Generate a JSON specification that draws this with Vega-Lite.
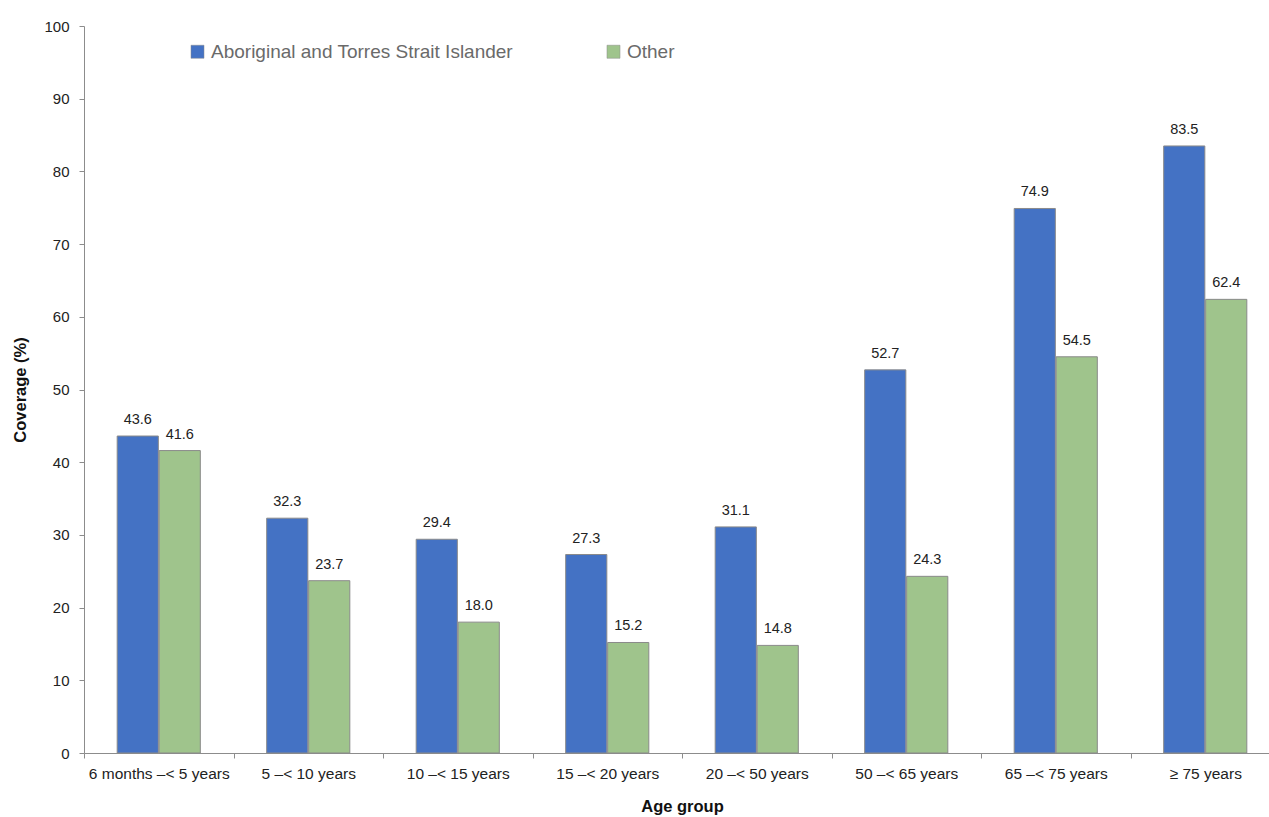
{
  "$schema": "https://vega.github.io/schema/vega-lite/v6.json",
  "width": 1196,
  "height": 727,
  "autosize": "none",
  "padding": {"left": 84, "top": 26, "right": 0, "bottom": 64},
  "background": "white",
  "config": {"view": {"stroke": null}, "font": "Liberation Sans"},
  "data": {"values": [
    {"age": "6 months –< 5 years", "series": "Aboriginal and Torres Strait Islander", "coverage": 43.6},
    {"age": "6 months –< 5 years", "series": "Other", "coverage": 41.6},
    {"age": "5 –< 10 years", "series": "Aboriginal and Torres Strait Islander", "coverage": 32.3},
    {"age": "5 –< 10 years", "series": "Other", "coverage": 23.7},
    {"age": "10 –< 15 years", "series": "Aboriginal and Torres Strait Islander", "coverage": 29.4},
    {"age": "10 –< 15 years", "series": "Other", "coverage": 18.0},
    {"age": "15 –< 20 years", "series": "Aboriginal and Torres Strait Islander", "coverage": 27.3},
    {"age": "15 –< 20 years", "series": "Other", "coverage": 15.2},
    {"age": "20 –< 50 years", "series": "Aboriginal and Torres Strait Islander", "coverage": 31.1},
    {"age": "20 –< 50 years", "series": "Other", "coverage": 14.8},
    {"age": "50 –< 65 years", "series": "Aboriginal and Torres Strait Islander", "coverage": 52.7},
    {"age": "50 –< 65 years", "series": "Other", "coverage": 24.3},
    {"age": "65 –< 75 years", "series": "Aboriginal and Torres Strait Islander", "coverage": 74.9},
    {"age": "65 –< 75 years", "series": "Other", "coverage": 54.5},
    {"age": "≥ 75 years", "series": "Aboriginal and Torres Strait Islander", "coverage": 83.5},
    {"age": "≥ 75 years", "series": "Other", "coverage": 62.4}
  ]},
  "encoding": {
    "x": {
      "field": "age", "type": "nominal", "sort": null,
      "scale": {"paddingInner": 0, "paddingOuter": 0},
      "axis": {
        "title": "Age group", "labelAngle": 0, "labelFontSize": 15.5, "labelColor": "#222222",
        "titleFontSize": 16.5, "titleFontWeight": "bold", "titleColor": "#111111",
        "domainColor": "#8c8c8c", "tickColor": "#8c8c8c", "tickSize": 5,
        "tickOffset": -74.75, "labelOffset": 74.75, "labelPadding": 8, "titlePadding": 17
      }
    },
    "xOffset": {
      "field": "series", "type": "nominal",
      "scale": {"paddingInner": 0.02, "paddingOuter": 0.79}
    },
    "y": {
      "field": "coverage", "type": "quantitative",
      "scale": {"domain": [0, 100], "nice": false},
      "axis": {
        "title": "Coverage (%)", "values": [0, 10, 20, 30, 40, 50, 60, 70, 80, 90, 100],
        "grid": false, "labelFontSize": 15, "labelColor": "#222222",
        "titleFontSize": 16.5, "titleFontWeight": "bold", "titleColor": "#111111",
        "domainColor": "#8c8c8c", "tickColor": "#8c8c8c", "tickSize": 5,
        "labelPadding": 10, "titlePadding": 15
      }
    }
  },
  "layer": [
    {
      "mark": {"type": "bar", "strokeWidth": 1, "stroke": "#8a8a8a"},
      "encoding": {
        "fill": {
          "field": "series", "type": "nominal",
          "scale": {"range": ["#4472C4", "#9fc48c"]},
          "legend": {
            "title": null, "orient": "none", "legendX": 104, "legendY": 16,
            "direction": "horizontal", "columns": 2, "columnPadding": 90,
            "symbolType": "square", "symbolSize": 170, "symbolStrokeWidth": 0.5,
            "labelFontSize": 19, "labelColor": "#6a6a6a", "labelFont": "Liberation Sans",
            "labelOffset": 4, "labelLimit": 500
          }
        }
      }
    },
    {
      "mark": {"type": "text", "dy": -16, "fontSize": 14.5, "color": "#222222"},
      "encoding": {
        "text": {"field": "coverage", "type": "quantitative", "format": ".1f"}
      }
    }
  ]
}
